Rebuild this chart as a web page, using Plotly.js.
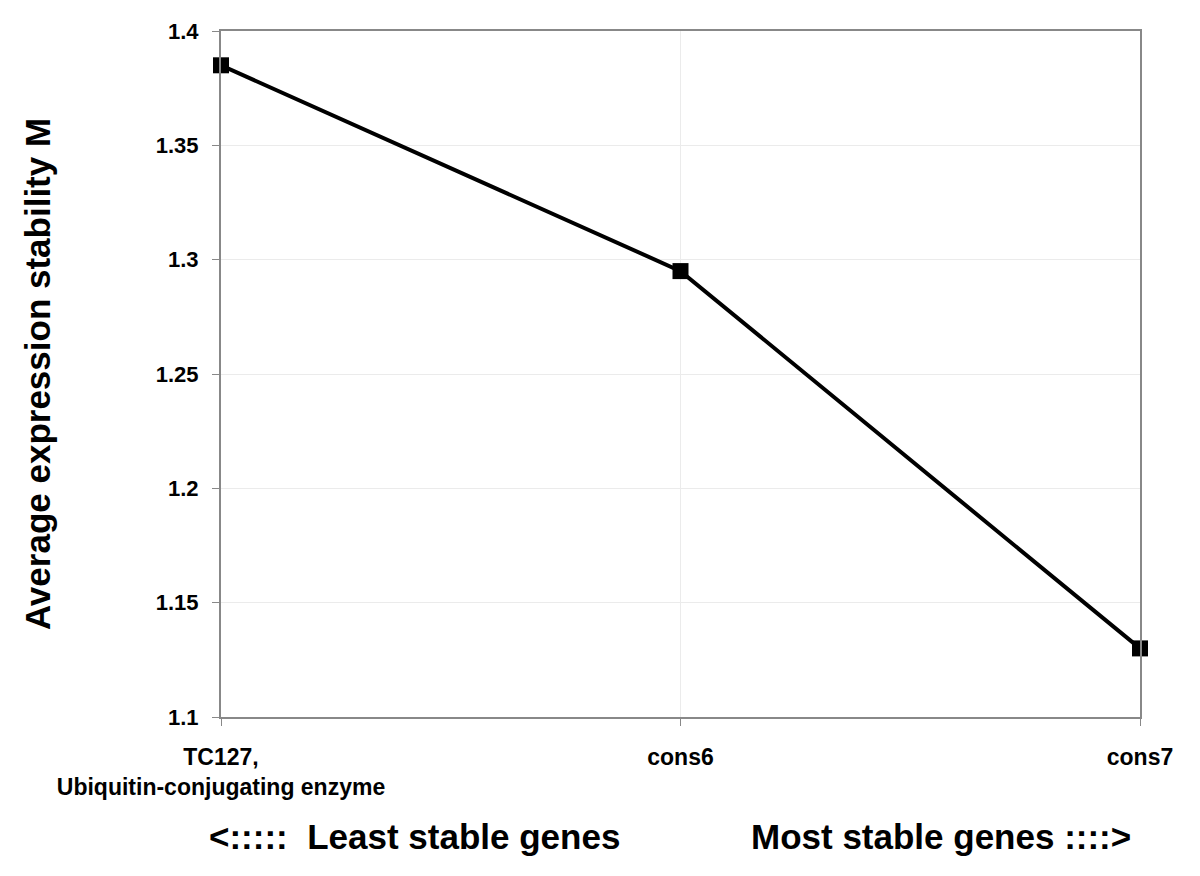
<!DOCTYPE html>
<html><head><meta charset="utf-8">
<script src="https://cdn.plot.ly/plotly-3.0.1.min.js"></script>
<style>html,body{margin:0;padding:0;background:#fff}#c{width:1200px;height:876px}</style>
</head><body><div id="c"></div>
<script>
const categories = ["TC127,<br>Ubiquitin-conjugating enzyme", "cons6", "cons7"];
const stability = [1.385, 1.295, 1.13];
const yTicks = [1.1, 1.15, 1.2, 1.25, 1.3, 1.35, 1.4];
const yTickText = ["1.1", "1.15", "1.2", "1.25", "1.3", "1.35", "1.4"];

const xIdx = categories.map((_, i) => i);
const trace = {
  x: xIdx, y: stability, type: 'scatter', mode: 'lines+markers',
  line: {color: '#000', width: 4},
  marker: {symbol: 'square', size: 16, color: '#000'},
  cliponaxis: false,
  hoverinfo: 'skip'
};
const font = 'Liberation Sans, Arial, sans-serif';
const layout = {
  width: 1200, height: 876,
  margin: {l: 221, r: 60, t: 31, b: 159},
  paper_bgcolor: '#fff', plot_bgcolor: '#fff',
  showlegend: false,
  xaxis: {
    range: [0, 2], tickvals: xIdx, ticktext: categories,
    showgrid: true, gridcolor: '#ebebeb', gridwidth: 1,
    showline: true, linecolor: '#888', linewidth: 2, mirror: true,
    ticks: 'outside', ticklen: 7, tickcolor: '#888', tickwidth: 1,
    ticklabelstandoff: 11,
    tickfont: {family: font, size: 23, color: '#000', weight: 'bold'},
    zeroline: false
  },
  yaxis: {
    range: [1.1, 1.4], tickvals: yTicks, ticktext: yTickText,
    showgrid: true, gridcolor: '#ebebeb', gridwidth: 1,
    showline: true, linecolor: '#888', linewidth: 2, mirror: true,
    ticks: 'outside', ticklen: 7, tickcolor: '#888', tickwidth: 1,
    ticklabelstandoff: 9,
    tickfont: {family: font, size: 22, color: '#000', weight: 'bold'},
    zeroline: false,
    title: {text: 'Average expression stability M', standoff: 95,
            font: {family: font, size: 35, color: '#000', weight: 'bold'}}
  },
  annotations: [
    {xref: 'paper', yref: 'paper', x: (414-221)/919, y: -(837-717)/686, xanchor: 'center', yanchor: 'middle',
     text: '<:::::  Least stable genes', showarrow: false,
     font: {family: font, size: 35, color: '#000', weight: 'bold'}},
    {xref: 'paper', yref: 'paper', x: (941-221)/919, y: -(837-717)/686, xanchor: 'center', yanchor: 'middle',
     text: 'Most stable genes ::::>', showarrow: false,
     font: {family: font, size: 35, color: '#000', weight: 'bold'}}
  ]
};
Plotly.newPlot('c', [trace], layout, {displayModeBar: false, staticPlot: true});
</script></body></html>
